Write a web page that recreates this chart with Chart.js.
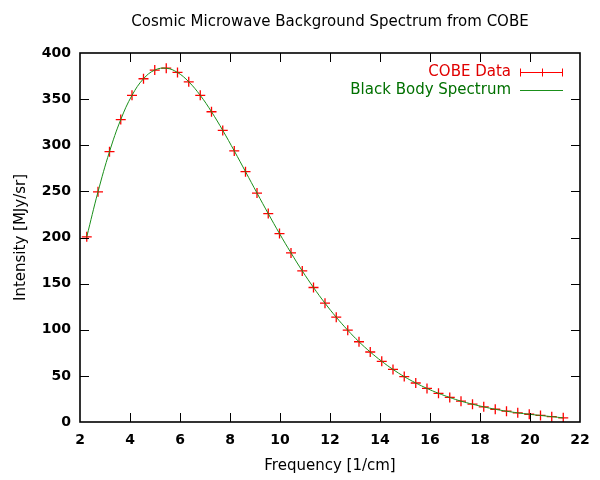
<!DOCTYPE html>
<html>
<head>
<meta charset="utf-8">
<script src="https://cdn.jsdelivr.net/npm/chart.js@4/dist/chart.umd.min.js"></script>
<style>
html,body{margin:0;padding:0;background:#fff;}
#wrap{width:600px;height:480px;}
</style>
</head>
<body>
<div id="wrap"><canvas id="c" width="600" height="480"></canvas></div>
<script>
const frequency = [2.27, 2.72, 3.18, 3.63, 4.08, 4.54, 4.99, 5.45, 5.90, 6.35, 6.81, 7.26, 7.71, 8.17, 8.62, 9.08, 9.53, 9.98, 10.44, 10.89, 11.34, 11.80, 12.25, 12.71, 13.16, 13.61, 14.07, 14.52, 14.97, 15.43, 15.88, 16.34, 16.79, 17.24, 17.70, 18.15, 18.61, 19.06, 19.51, 19.97, 20.42, 20.87, 21.33];
const cobeIntensity = [200.7, 249.5, 293.0, 327.8, 354.1, 372.1, 381.5, 383.5, 378.9, 368.8, 354.1, 336.3, 316.1, 293.9, 271.4, 248.2, 225.9, 204.3, 183.3, 163.8, 145.8, 128.8, 113.6, 99.5, 87.0, 75.9, 65.8, 57.0, 49.2, 42.3, 36.4, 31.1, 26.6, 22.6, 19.3, 16.4, 13.8, 11.7, 9.9, 8.4, 7.1, 5.8, 4.5];
const blackBodyIntensity = [200.7, 249.5, 293.0, 327.8, 354.1, 372.1, 381.5, 383.5, 378.9, 368.8, 354.1, 336.3, 316.1, 293.9, 271.4, 248.2, 225.9, 204.3, 183.3, 163.8, 145.8, 128.8, 113.6, 99.5, 87.0, 75.9, 65.8, 57.0, 49.2, 42.3, 36.4, 31.1, 26.6, 22.6, 19.3, 16.4, 13.8, 11.7, 9.9, 8.4, 7.1, 5.8, 4.5];
const seriesNames = ["COBE Data", "Black Body Spectrum"];
const chartTitle = "Cosmic Microwave Background Spectrum from COBE";
const xTitle = "Frequency [1/cm]";
const yTitle = "Intensity [MJy/sr]";

const RED = '#ff0000';
const RED_TEXT = '#e00000';
const GREEN = '#1a8f1a';
const GREEN_TEXT = '#007000';
const FONT = "'DejaVu Sans', sans-serif";

const framePlugin = {
  id: 'frame',
  afterLayout(chart) {
    // gnuplot centres the title over the plot area
    const tb = chart.titleBlock, a = chart.chartArea;
    if (tb && a) { tb.left = a.left; tb.right = a.right; tb.width = a.right - a.left; }
  },
  afterDraw(chart) {
    const ctx = chart.ctx, a = chart.chartArea;
    const xs = chart.scales.x, ys = chart.scales.y;
    const TL = 9;
    ctx.save();
    ctx.strokeStyle = '#000';
    ctx.lineWidth = 1;
    ctx.beginPath();
    xs.ticks.forEach(t => {
      const px = Math.round(xs.getPixelForValue(t.value)) + 0.5;
      if (px <= a.left + 1 || px >= a.right - 1) return;
      ctx.moveTo(px, a.bottom); ctx.lineTo(px, a.bottom - TL);
      ctx.moveTo(px, a.top); ctx.lineTo(px, a.top + TL);
    });
    ys.ticks.forEach(t => {
      const py = Math.round(ys.getPixelForValue(t.value)) + 0.5;
      if (py <= a.top + 1 || py >= a.bottom - 1) return;
      ctx.moveTo(a.left, py); ctx.lineTo(a.left + TL, py);
      ctx.moveTo(a.right, py); ctx.lineTo(a.right - TL, py);
    });
    ctx.stroke();
    ctx.lineWidth = 1.6;
    ctx.strokeRect(a.left, a.top, a.right - a.left, a.bottom - a.top);

    // legend (top right, gnuplot style)
    const textRight = a.right - 69;
    const sx0 = a.right - 60, sx1 = a.right - 17;
    ctx.font = "15px " + FONT;
    ctx.textAlign = 'right';
    ctx.textBaseline = 'middle';
    const rows = [
      {label: seriesNames[0], color: RED_TEXT, y: a.top + 19},
      {label: seriesNames[1], color: GREEN_TEXT, y: a.top + 37}
    ];
    rows.forEach(r => { ctx.fillStyle = r.color; ctx.fillText(r.label, textRight, r.y); });
    // error-bar sample
    ctx.strokeStyle = RED; ctx.lineWidth = 1;
    const y0 = Math.round(rows[0].y) + 0.5;
    ctx.beginPath();
    ctx.moveTo(sx0, y0); ctx.lineTo(sx1, y0);
    ctx.moveTo(sx0 + 0.5, y0 - 4); ctx.lineTo(sx0 + 0.5, y0 + 4);
    ctx.moveTo(sx1 - 0.5, y0 - 4); ctx.lineTo(sx1 - 0.5, y0 + 4);
    const mx = Math.round((sx0 + sx1) / 2) + 0.5;
    ctx.moveTo(mx, y0 - 4); ctx.lineTo(mx, y0 + 4);
    ctx.stroke();
    ctx.strokeStyle = GREEN;
    const y1 = Math.round(rows[1].y) + 0.5;
    ctx.beginPath(); ctx.moveTo(sx0, y1); ctx.lineTo(sx1, y1); ctx.stroke();
    ctx.restore();
  }
};

const cobePoints = frequency.map((f, i) => ({x: f, y: cobeIntensity[i]}));
const bbPoints = frequency.map((f, i) => ({x: f, y: blackBodyIntensity[i]}));

new Chart(document.getElementById('c'), {
  type: 'scatter',
  data: {
    datasets: [
      {
        label: seriesNames[1],
        data: bbPoints,
        showLine: true,
        borderColor: GREEN,
        borderWidth: 1,
        pointRadius: 0,
        tension: 0.4,
        fill: false,
        order: 0
      },
      {
        label: seriesNames[0],
        data: cobePoints,
        showLine: false,
        pointStyle: 'cross',
        pointRadius: 5,
        borderColor: RED,
        backgroundColor: RED,
        pointBorderWidth: 1.3,
        order: 1
      }
    ]
  },
  options: {
    responsive: false,
    animation: false,
    devicePixelRatio: 1,
    layout: {padding: {left: 0, right: 20, top: 0, bottom: 0}},
    plugins: {
      legend: {display: false},
      tooltip: {enabled: false},
      title: {
        display: true,
        text: chartTitle,
        color: '#000',
        font: {family: FONT, size: 15, weight: 'normal'},
        padding: {top: 13, bottom: 22}
      }
    },
    scales: {
      x: {
        type: 'linear',
        min: 2, max: 22,
        grid: {display: false},
        border: {display: false},
        ticks: {stepSize: 2, color: '#000', padding: 2, font: {family: FONT, size: 14, weight: 'bold'}, maxRotation: 0},
        title: {display: true, text: xTitle, color: '#000', font: {family: FONT, size: 15}, padding: {top: 0, bottom: 5}},
        afterFit(s) { s.height = 58; }
      },
      y: {
        type: 'linear',
        min: 0, max: 400,
        grid: {display: false},
        border: {display: false},
        ticks: {stepSize: 50, color: '#000', padding: 1, font: {family: FONT, size: 14, weight: 'bold'}},
        title: {display: true, text: yTitle, color: '#000', font: {family: FONT, size: 15}, padding: {top: 12, bottom: 0}},
        afterFit(s) { s.width = 80; }
      }
    }
  },
  plugins: [framePlugin]
});
</script>
</body>
</html>
